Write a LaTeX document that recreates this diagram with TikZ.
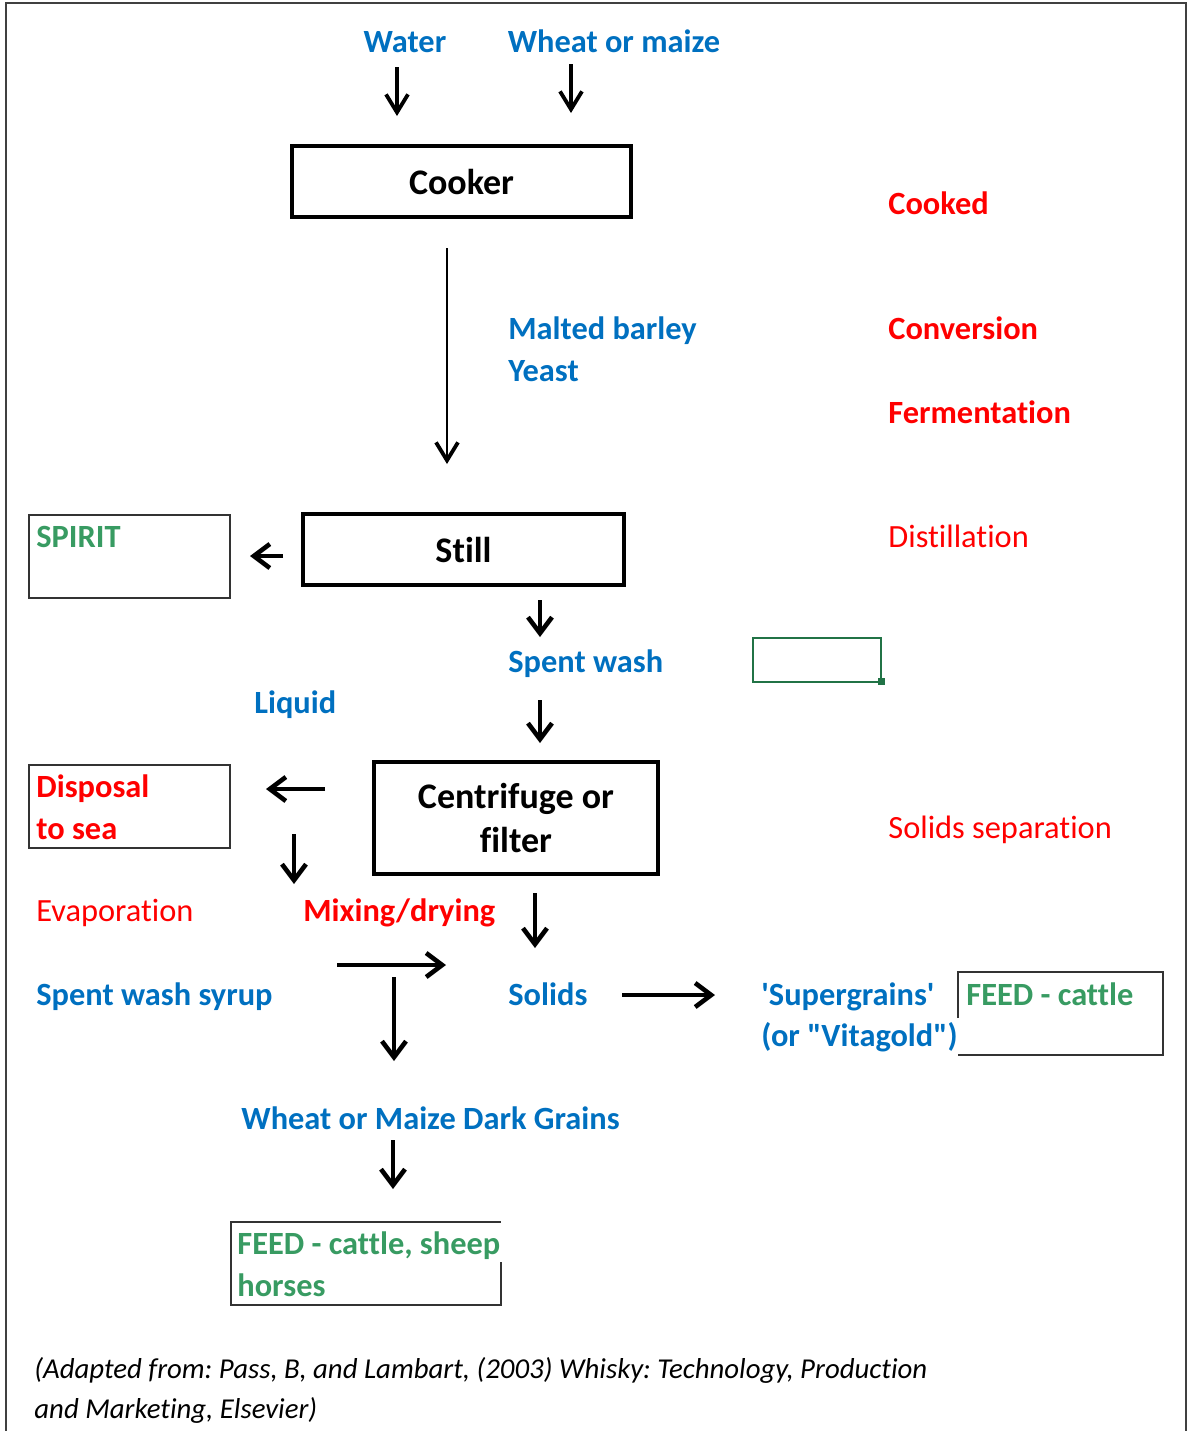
\documentclass[tikz,border=0pt]{standalone}
\usepackage{fontspec}
\setmainfont{Carlito}[Ligatures=NoCommon]
\newfontfamily\qfont{Carlito}
\usetikzlibrary{arrows.meta}
\definecolor{tblue}{HTML}{0070C0}
\definecolor{tred}{HTML}{FF0000}
\definecolor{tgreen}{HTML}{389B62}
\definecolor{selgreen}{HTML}{217346}
\definecolor{frame}{HTML}{404040}
\frenchspacing
\begin{document}
\begin{tikzpicture}[x=0.5pt,y=-0.5pt,
  lbl/.style={anchor=west,inner sep=0pt,font=\fontsize{16.2}{21}\selectfont\bfseries,text height=13pt,text depth=3pt},
  blbl/.style={lbl,text=tblue},
  rlbl/.style={lbl,text=tred},
  rreg/.style={lbl,text=tred,font=\fontsize{16.2}{21}\selectfont},
  glbl/.style={lbl,text=tgreen},
  procbox/.style={draw,line width=2pt,minimum height=35.5pt,inner sep=0pt,font=\fontsize{18}{22}\selectfont\bfseries,align=center},
  thinbox/.style={draw=black!80,line width=0.6pt},
  arr/.style={line width=2.3pt,-{Straight Barb[length=8pt,width=12pt,line width=2.3pt]}},
  arrthin/.style={line width=1.8pt,-{Straight Barb[length=9pt,width=11pt,line width=1.9pt]}},
  cite/.style={anchor=west,inner sep=0pt,font=\fontsize{14.4}{20}\selectfont\itshape,text height=13.5pt,text depth=3pt},
]
\useasboundingbox (0,0) rectangle (1189,1431);
% outer frame
\draw[frame,line width=1pt] (6,1431) -- (6,3) -- (1186,3) -- (1186,1431);

% inputs
\node[blbl,anchor=center] (water) at (405,42) {Water};
\node[blbl,anchor=center] (wheat) at (614,42) {Wheat or maize};
\coordinate (wa1) at (397,67); \coordinate (wa2) at (397,116);
\coordinate (wh1) at (571,64); \coordinate (wh2) at (571,113);
\draw[arrthin] (wa1) -- (wa2);
\draw[arrthin] (wh1) -- (wh2);

% cooker
\node[procbox,minimum width=169.5pt] (cooker) at (461.5,181.5) {Cooker};
\coordinate (ck1) at (447,248); \coordinate (ck2) at (447,464);
\draw[arrthin,line width=1.4pt] (ck1) -- (ck2);

\node[blbl] (malt) at (508,329) {Malted barley};
\node[blbl] (yeast) at (508,371) {Yeast};

% right-hand stage labels
\node[rlbl] (cooked) at (888,204) {Cooked};
\node[rlbl] (conv) at (888,329) {Conversion};
\node[rlbl] (ferm) at (888,413) {Fermentation};
\node[rreg] (dist) at (888,537) {Distillation};
\node[rreg] (solsep) at (888,828) {Solids separation};

% still
\node[procbox,minimum width=160.5pt] (still) at (463.5,549.5) {Still};
\draw[thinbox] (29,515) rectangle (230,598);
\node[glbl] (spirit) at (36,537) {SPIRIT};
\coordinate (sp1) at (283,556); \coordinate (sp2) at (250,556);
\draw[arr] (sp1) -- (sp2);

\coordinate (st1) at (540,600); \coordinate (st2) at (540,637);
\draw[arr] (st1) -- (st2);
\node[blbl] (spent) at (508,662) {Spent wash};

% empty selected cell
\draw[selgreen,line width=1.2pt] (753,638) rectangle (881,682);
\fill[selgreen] (877.5,677.5) rectangle (885,685);

\node[blbl] (liquid) at (254,703) {Liquid};
\coordinate (sw1) at (540,700); \coordinate (sw2) at (540,743);
\draw[arr] (sw1) -- (sw2);

% centrifuge
\node[procbox,minimum width=142pt,minimum height=56pt] (cent) at (516,818) {Centrifuge or\\filter};
\draw[thinbox] (29,765) rectangle (230,848);
\node[rlbl] (disp1) at (36,787) {Disposal};
\node[rlbl] (disp2) at (36,829) {to sea};
\coordinate (ce1) at (325,789); \coordinate (ce2) at (266,789);
\draw[arr] (ce1) -- (ce2);
\coordinate (ev1) at (294,834); \coordinate (ev2) at (294,884);
\draw[arr] (ev1) -- (ev2);

\node[rreg] (evap) at (36,911) {Evaporation};
\node[rlbl] (mix) at (303,911) {Mixing/drying};
\coordinate (cs1) at (535,893); \coordinate (cs2) at (535,948);
\draw[arr] (cs1) -- (cs2);

\node[blbl] (syrup) at (36,995) {Spent wash syrup};
\coordinate (sy1) at (337,965); \coordinate (sy2) at (446,965);
\draw[arr] (sy1) -- (sy2);
\coordinate (dg1) at (394,977); \coordinate (dg2) at (394,1061);
\draw[arr,line width=1.8pt] (dg1) -- (dg2);

\node[blbl] (solids) at (508,995) {Solids};
\coordinate (so1) at (622,995); \coordinate (so2) at (715,995);
\draw[arr] (so1) -- (so2);
\node[blbl] (super1) at (761,995) {\qfont 'Supergrains'};
\node[blbl] (super2) at (761,1036) {\qfont (or "Vitagold")};
\draw[thinbox] (958,1018) -- (958,972) -- (1163,972) -- (1163,1055) -- (958,1055);
\node[glbl] (feed1) at (966,995) {FEED - cattle};

\node[blbl] (dark) at (241,1119) {Wheat or Maize Dark Grains};
\coordinate (dk1) at (393,1140); \coordinate (dk2) at (393,1189);
\draw[arr,line width=1.8pt] (dk1) -- (dk2);
\draw[thinbox] (501,1262) -- (501,1305) -- (231,1305) -- (231,1222) -- (501,1222);
\node[glbl] (feed2a) at (237,1244) {FEED - cattle, sheep};
\node[glbl] (feed2b) at (237,1286) {horses};

% citation
\node[cite] (cite1) at (34,1368) {(Adapted from: Pass, B, and Lambart, (2003) Whisky: Technology, Production};
\node[cite] (cite2) at (34,1408) {and Marketing, Elsevier)};
\end{tikzpicture}
\end{document}
